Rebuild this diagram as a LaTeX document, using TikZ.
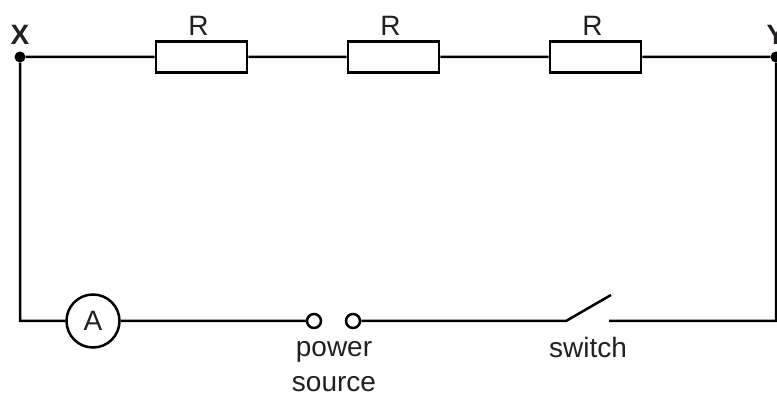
\documentclass[tikz,border=0pt]{standalone}
\usepackage{fontspec}
\setmainfont{Liberation Sans}
\usetikzlibrary{positioning}
\definecolor{inktext}{HTML}{231F20}
\tikzset{
    wire/.style={line width=2.5pt,black},
    res/.style={draw,line width=2.8pt,minimum width=91pt,minimum height=31pt,inner sep=0pt},
    meter/.style={draw,circle,line width=2.5pt,minimum size=53pt,inner sep=0pt,text=inktext,font=\fontsize{28}{32}\selectfont},
    term/.style={draw,circle,line width=2.5pt,minimum size=14pt,inner sep=0pt},
    junct/.style={circle,fill=black,minimum size=11pt,inner sep=0pt},
    lbl/.style={inner sep=0pt,text=inktext,font=\fontsize{28}{35}\selectfont,align=center},
    pt/.style={font=\bfseries\fontsize{28}{32}\selectfont,inner sep=0pt,text=inktext}
}
\begin{document}
\begin{tikzpicture}[x=1pt,y=1pt,node distance=2cm,on grid]
            \useasboundingbox (0,0) rectangle (777,394);
            \node[junct] (x) at (20,337) {};
            \node[junct] (y) at (776,337) {};
            \coordinate (bl) at (20,73);
            \coordinate (br) at (776,73);
            \node[res] (r_1) [right=181.5pt of x] {};
            \node[res] (r_2) [right=192pt of r_1] {};
            \node[res] (r_3) [right=202pt of r_2] {};
            \node[meter] (amp) at (93,73) {A};
            \node[term] (t_1) at (314,73) {};
            \node[term] (t_2) [right=39pt of t_1] {};
            \coordinate (sw_a) at (566,73);
            \coordinate (sw_b) at (611,99);
            \coordinate (sw_c) at (609,73);
            \draw[wire]
                (x) -- (r_1)
                (r_1) -- (r_2)
                (r_2) -- (r_3)
                (r_3) -- (y)
                (x) -- (bl) -- (amp)
                (amp) -- (t_1)
                (t_2) -- (sw_a) -- (sw_b)
                (sw_c) -- (br) -- (y);
            \node[pt] (lx) [above=22pt of x] {X};
            \node[pt] (ly) [above=22pt of y] {Y};
            \node[lbl] (l_1) [above=31pt of r_1,xshift=-3pt] {R};
            \node[lbl] (l_2) [above=31pt of r_2,xshift=-3pt] {R};
            \node[lbl] (l_3) [above=31pt of r_3,xshift=-3pt] {R};
            \node[lbl,anchor=base] (src) at (334,3) {power\\source};
            \node[lbl,anchor=base] (swl) at (588,37) {switch};
        \end{tikzpicture}
\end{document}
